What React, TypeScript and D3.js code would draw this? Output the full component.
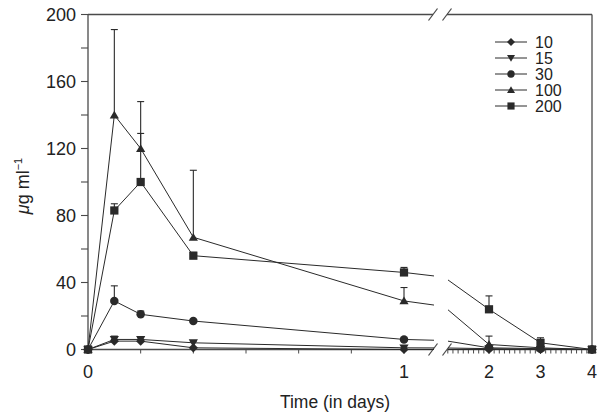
import * as d3 from "d3";
import React from "react";

// sampling times in hours
const hours = [0, 2, 4, 8, 24, 48, 72, 96];

const seriesNames = ["10", "15", "30", "100", "200"];

const s10 = [0, 5, 5, 1, 0, 0, 0, 0];
const s15 = [0, 6, 6, 4, 1, 0.5, 0, 0];
const s30 = [0, 29, 21, 17, 6, 1, 0.5, 0];
const s100 = [0, 140, 120, 67, 29, 3, 1, 0];
const s200 = [0, 83, 100, 56, 46, 24, 4, 0];

// upper error bar lengths
const e10 = [0, 1, 1, 0, 0, 0, 0, 0];
const e15 = [0, 2, 1, 1, 0, 0, 0, 0];
const e30 = [0, 9, 2, 0, 0, 0, 0, 0];
const e100 = [0, 51, 28, 40, 8, 5, 0, 0];
const e200 = [0, 4, 29, 2, 3, 8, 3, 0];

const yTicks = [0, 40, 80, 120, 160, 200];
const xLeftLabels = [0, 1];
const xRightLabels = [2, 3, 4];

const values = [s10, s15, s30, s100, s200];
const errors = [e10, e15, e30, e100, e200];
const days = hours.map(h => h / 24);

const ink = "#2a2a2a";
const axisInk = "#4a4a4a";
const font = "Liberation Sans, Arial, sans-serif";

const W = 600, H = 414;
const left = 88, right = 592, top = 14.5, bottom = 349.5;
const breakL = 433, breakR = 447;

const xL = d3.scaleLinear().domain([0, 1]).range([left, 404]);
const xR = d3.scaleLinear().domain([2, 4]).range([489, right]);
const y = d3.scaleLinear().domain([0, 200]).range([bottom, top]);

function markerPath(i: number, r: number): string {
  if (i === 0) return `M0,${-r}L${r},0L0,${r}L${-r},0Z`;
  if (i === 1) return `M${-r},${-r * 0.75}L${r},${-r * 0.75}L0,${r * 0.95}Z`;
  if (i === 2) return d3.symbol(d3.symbolCircle, Math.PI * r * r * 0.85)()!;
  if (i === 3) return `M${-r},${r * 0.75}L${r},${r * 0.75}L0,${-r * 0.95}Z`;
  return d3.symbol(d3.symbolSquare, r * r * 3.2)()!;
}

const Segment: React.FC<{ x: d3.ScaleLinear<number, number>; clip: string }> = ({ x, clip }) => {
  const line = d3.line<number>().x((_, i) => x(days[i])).y(v => y(v));
  return (
    <g clipPath={`url(#${clip})`}>
      {values.map((vals, si) => (
        <g key={si}>
          {vals.map((v, i) =>
            errors[si][i] > 0 ? (
              <g key={i} stroke={ink} strokeWidth={1.1}>
                <line x1={x(days[i])} x2={x(days[i])} y1={y(v)} y2={y(v + errors[si][i])} />
                <line x1={x(days[i]) - 3.5} x2={x(days[i]) + 3.5} y1={y(v + errors[si][i])} y2={y(v + errors[si][i])} />
              </g>
            ) : null
          )}
          <path d={line(vals)!} fill="none" stroke={ink} strokeWidth={1} />
          {vals.map((v, i) => (
            <path key={i} d={markerPath(si, 4.6)} transform={`translate(${x(days[i])},${y(v)})`} fill={ink} />
          ))}
        </g>
      ))}
    </g>
  );
};

export default function App() {
  const minorY = d3.range(0, 201, 20);
  const minorXL = d3.range(0, 7).map(k => k / 6);
  const minorXR = d3.range(12, 41).map(k => k / 10);

  const slash = (cx: number, cy: number, k: number) => (
    <line key={k} x1={cx - 4.5} y1={cy + 6} x2={cx + 4.5} y2={cy - 6} stroke={axisInk} strokeWidth={1.2} />
  );

  return (
    <svg width={W} height={H} style={{ position: "absolute", left: 0, top: 0, background: "#fff" }} fontFamily={font}>
      <defs>
        <clipPath id="clipL"><rect x={0} y={0} width={breakL + 1} height={H} /></clipPath>
        <clipPath id="clipR"><rect x={breakR + 1} y={0} width={W - breakR} height={H} /></clipPath>
      </defs>

      {/* frame */}
      <g stroke={axisInk} strokeWidth={1.3} fill="none">
        <line x1={left} x2={left} y1={top} y2={bottom} />
        <line x1={right} x2={right} y1={top} y2={bottom} />
        <line x1={left} x2={breakL} y1={top} y2={top} />
        <line x1={breakR} x2={right} y1={top} y2={top} />
        <line x1={left} x2={breakL} y1={bottom} y2={bottom} />
        <line x1={breakR} x2={right} y1={bottom} y2={bottom} />
      </g>
      {[breakL, breakR].map((bx, k) => slash(bx, top, k))}
      {[breakL, breakR].map((bx, k) => slash(bx, bottom, k + 2))}

      {/* y ticks */}
      <g stroke={axisInk} strokeWidth={1.1}>
        {minorY.map(v => (
          <line key={v} x1={left - 7} x2={left} y1={y(v)} y2={y(v)} />
        ))}
      </g>
      {yTicks.map(v => (
        <text key={v} x={76} y={y(v)} dy="0.36em" textAnchor="end" fontSize={18} fill="#222">{v}</text>
      ))}

      {/* x ticks */}
      <g stroke={axisInk} strokeWidth={1}>
        {minorXL.map((t, i) => (
          <line key={"l" + i} x1={xL(t)} x2={xL(t)} y1={bottom} y2={bottom + 4} />
        ))}
        {minorXR.map((t, i) => (
          <line key={"r" + i} x1={xR(t)} x2={xR(t)} y1={bottom} y2={bottom + 4} />
        ))}
      </g>
      {xLeftLabels.map(t => (
        <text key={t} x={xL(t)} y={378} textAnchor="middle" fontSize={18} fill="#222">{t}</text>
      ))}
      {xRightLabels.map(t => (
        <text key={t} x={xR(t)} y={378} textAnchor="middle" fontSize={18} fill="#222">{t}</text>
      ))}

      <Segment x={xL} clip="clipL" />
      <Segment x={xR} clip="clipR" />

      {/* axis titles */}
      <text x={335} y={408} textAnchor="middle" fontSize={17.5} fill="#222">Time (in days)</text>
      <text transform="translate(29,186) rotate(-90)" textAnchor="middle" fontSize={18} fill="#222">
        <tspan fontStyle="italic">μ</tspan>g ml<tspan dy={-7} fontSize={11}>−1</tspan>
      </text>

      {/* legend */}
      {seriesNames.map((name, i) => {
        const ly = 42 + i * 16;
        return (
          <g key={name}>
            <line x1={495} x2={527} y1={ly} y2={ly} stroke={ink} strokeWidth={1} />
            <path d={markerPath(i, 4)} transform={`translate(511,${ly})`} fill={ink} />
            <text x={535} y={ly} dy="0.36em" fontSize={16} fill="#222">{name}</text>
          </g>
        );
      })}
    </svg>
  );
}
